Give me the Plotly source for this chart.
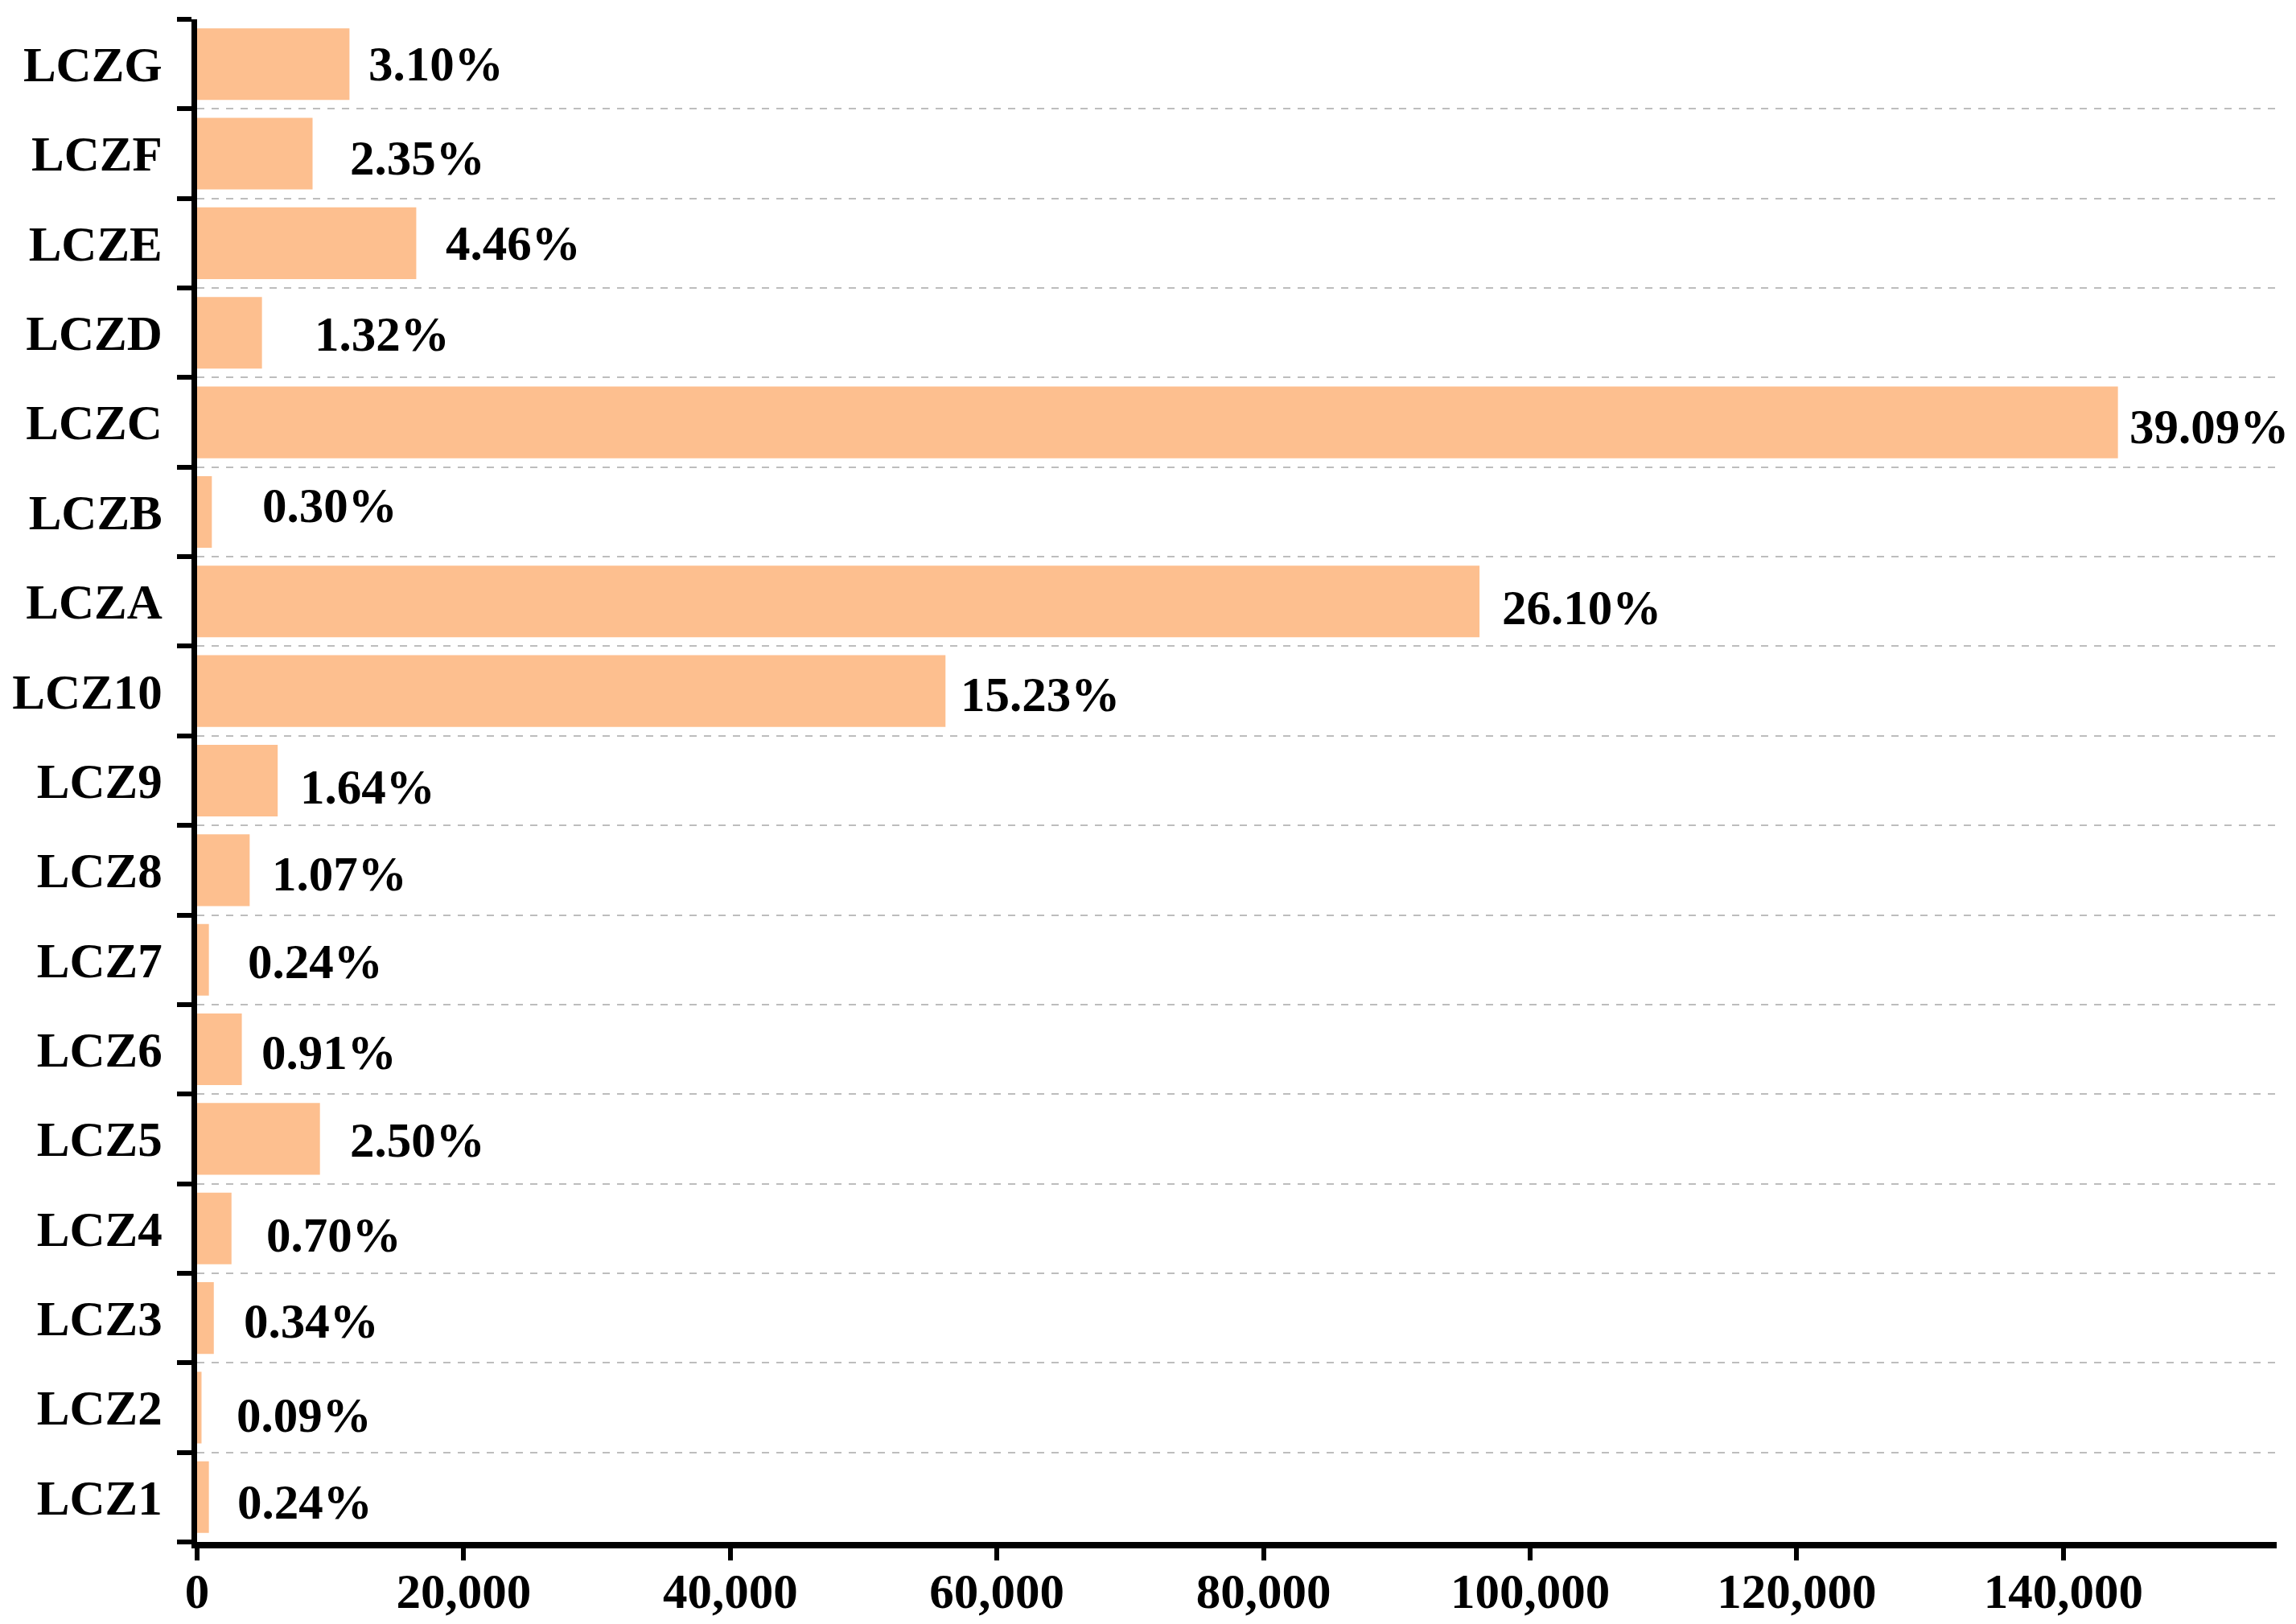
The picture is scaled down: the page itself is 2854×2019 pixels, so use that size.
import plotly.graph_objects as go

categories = ["LCZ1", "LCZ2", "LCZ3", "LCZ4", "LCZ5", "LCZ6", "LCZ7", "LCZ8", "LCZ9",
              "LCZ10", "LCZA", "LCZB", "LCZC", "LCZD", "LCZE", "LCZF", "LCZG"]
areas = [885, 332, 1253, 2580, 9215, 3354, 885, 3944, 6045,
         56140, 96200, 1106, 144090, 4866, 16440, 8662, 11430]
percent_labels = ["0.24%", "0.09%", "0.34%", "0.70%", "2.50%", "0.91%", "0.24%", "1.07%", "1.64%",
                  "15.23%", "26.10%", "0.30%", "39.09%", "1.32%", "4.46%", "2.35%", "3.10%"]
x_ticks = [0, 20000, 40000, 60000, 80000, 100000, 120000, 140000]

# pixel gap between each bar end and its label (style only)
label_gaps = [33, 41, 35, 41, 35, 22, 46, 26, 26, 17, 26, 61, 12, 63, 35, 44, 22]
label_drops = [-6, -10, -4, -8, -2, -4, -2, -5, -8, -4, -8, 8, -5, -2, 0, -5, 0]

FONT = "Times New Roman, Liberation Serif, serif"
BAR_COLOR = "#FDBF8F"

fig = go.Figure()
fig.add_trace(go.Bar(
    x=areas, y=categories, orientation="h",
    marker=dict(color=BAR_COLOR, line=dict(width=0)),
    width=0.8, showlegend=False, hoverinfo="x+y",
))

for cat, val, lab, gap, drop in zip(categories, areas, percent_labels, label_gaps, label_drops):
    fig.add_annotation(
        x=val, y=cat, text=lab, showarrow=False,
        xanchor="left", yanchor="middle", xshift=gap, yshift=drop,
        font=dict(family=FONT, size=61, color="black", weight="bold"),
    )

fig.update_layout(
    width=2854, height=2019,
    margin=dict(l=237, r=32, t=16, b=110),
    paper_bgcolor="white", plot_bgcolor="white",
    font=dict(family=FONT, size=60, color="black", weight="bold"),
    xaxis=dict(
        range=[0, 156000], tickvals=x_ticks, tickformat=",d",
        showline=True, linecolor="black", linewidth=8,
        ticks="outside", ticklen=15, tickwidth=6, tickcolor="black",
        showgrid=False, zeroline=False, automargin=False,
        ticklabelstandoff=-14,
        tickfont=dict(family=FONT, size=61, color="black", weight="bold"),
    ),
    yaxis=dict(
        type="category", categoryorder="array", categoryarray=categories,
        range=[-0.5, len(categories) - 0.5],
        showline=True, linecolor="black", linewidth=7,
        ticks="outside", ticklen=18, tickwidth=6, tickcolor="black",
        tickson="boundaries", ticklabelstandoff=24, automargin=False,
        showgrid=True, gridcolor="#BDBDBD", gridwidth=2, griddash="dash",
        zeroline=False,
        tickfont=dict(family=FONT, size=61, color="black", weight="bold"),
    ),
    yaxis2=dict(
        overlaying="y", anchor="x", side="left",
        range=[-0.5, len(categories) - 0.5],
        tickmode="array", tickvals=[i - 0.5 for i in range(len(categories) + 1)],
        ticks="inside", ticklen=18, tickwidth=6, tickcolor="black",
        showticklabels=False, showgrid=False, zeroline=False, showline=False,
        automargin=False,
    ),
)

fig.write_html("out.html")
